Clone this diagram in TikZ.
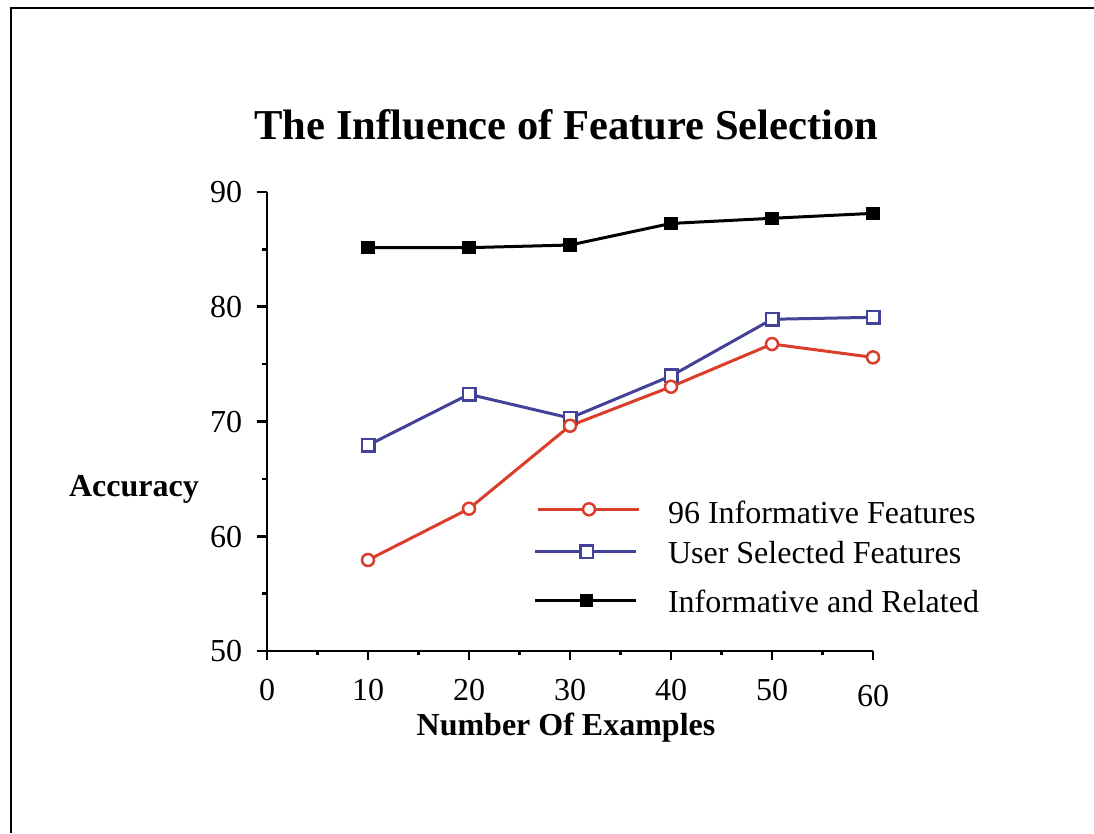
\documentclass[tikz,border=0pt]{standalone}
\usepackage{fontspec}
\setmainfont{Liberation Serif}
\definecolor{serred}{RGB}{218,62,42}
\definecolor{serblue}{RGB}{66,66,152}
\tikzset{
  every node/.style={inner sep=0pt, outer sep=0pt},
  axisline/.style={line width=2.8pt, black},
  majtick/.style={line width=2.8pt, black},
  mintick/.style={line width=2.6pt, black},
  txt/.style={font=\fontsize{32}{38}\selectfont},
  ttl/.style={font=\fontsize{42.6}{50}\selectfont\bfseries},
  redline/.style={line width=3pt, serred},
  blueline/.style={line width=3pt, serblue},
  blackline/.style={line width=3pt, black},
  redmark/.style={circle, draw=serred, fill=white, line width=2.5pt, minimum size=12pt},
  bluemark/.style={rectangle, draw=serblue, fill=white, line width=2.5pt, minimum size=12.5pt},
  blackmark/.style={rectangle, fill=black, minimum size=13.5pt},
}
\begin{document}
\begin{tikzpicture}[x=1pt, y=-1pt]
\useasboundingbox (0,0) rectangle (1094,833);
% frame (top and left)
\draw[line width=2pt] (11,833) -- (11,8) -- (1094,8);
% title
\node[ttl, anchor=base] (title) at (566.5,139) {The Influence of Feature Selection};
% axes
\coordinate (origin) at (267,651);
\coordinate (ytop) at (267,192);
\coordinate (xend) at (873,651);
\draw[axisline] (ytop) -- (origin) -- (xend);
% y ticks
\foreach \v in {50,60,70,80,90} {
  \pgfmathsetmacro{\yy}{651-(\v-50)*11.475}
  \draw[majtick] (256.5,\yy) -- (267,\yy);
  \node[txt, anchor=base east] (yl\v) at (242,\yy+10.8) {\v};
}
\foreach \v in {55,65,75,85} {
  \pgfmathsetmacro{\yy}{651-(\v-50)*11.475}
  \draw[mintick] (261.5,\yy) -- (267,\yy);
}
% x ticks
\foreach \v in {0,10,20,30,40,50,60} {
  \pgfmathsetmacro{\xx}{267+\v*10.1}
  \draw[majtick] (\xx,651) -- (\xx,660);
}
\foreach \v in {5,15,25,35,45,55} {
  \pgfmathsetmacro{\xx}{267+\v*10.1}
  \draw[mintick] (\xx,651) -- (\xx,655);
}
\foreach \v in {0,10,20,30,40,50} {
  \pgfmathsetmacro{\xx}{267+\v*10.1}
  \node[txt, anchor=base] (xl\v) at (\xx,700.5) {\v};
}
\node[txt, anchor=base] (xl60) at (873,706) {60};
% axis titles
\node[txt, font=\fontsize{32}{38}\selectfont\bfseries, anchor=base] (ylab) at (134,496.5) {Accuracy};
\node[txt, font=\fontsize{32}{38}\selectfont\bfseries, anchor=base] (xlab) at (566,735) {Number Of Examples};
% data
\begin{scope}[shift={(267,651)}, x=10.1pt, y=11.475pt]
  \foreach \i/\xv/\rv/\bv/\kv in {1/10/57.93/67.93/85.15, 2/20/62.40/72.37/85.15, 3/30/69.63/70.30/85.38, 4/40/73.03/73.97/87.26, 5/50/76.75/78.91/87.71, 6/60/75.59/79.08/88.14} {
    \coordinate (r\i) at (\xv,\rv-50);
    \coordinate (b\i) at (\xv,\bv-50);
    \coordinate (k\i) at (\xv,\kv-50);
  }
\end{scope}
\draw[blackline] (k1) -- (k2) -- (k3) -- (k4) -- (k5) -- (k6);
\draw[blueline] (b1) -- (b2) -- (b3) -- (b4) -- (b5) -- (b6);
\draw[redline] (r1) -- (r2) -- (r3) -- (r4) -- (r5) -- (r6);
\foreach \i in {1,...,6} {
  \node[blackmark] (mk\i) at (k\i) {};
  \node[bluemark] (mb\i) at (b\i) {};
}
\foreach \i in {1,...,6} {
  \node[redmark] (mr\i) at (r\i) {};
}
% legend
\coordinate (lr0) at (538,509.3);
\coordinate (lr1) at (639,509.3);
\coordinate (lb0) at (535,551.7);
\coordinate (lb1) at (636,551.7);
\coordinate (lk0) at (535,600.7);
\coordinate (lk1) at (636,600.7);
\draw[redline] (lr0) -- (lr1);
\draw[blueline] (lb0) -- (lb1);
\draw[blackline] (lk0) -- (lk1);
\node[redmark] (lmr) at (589,509.3) {};
\node[bluemark] (lmb) at (586.7,551.7) {};
\node[blackmark] (lmk) at (586.7,600.7) {};
\node[txt, anchor=base west] (lt1) at (668,523.5) {96 Informative Features};
\node[txt, anchor=base west] (lt2) at (668,563.5) {User Selected Features};
\node[txt, anchor=base west] (lt3) at (668,612) {Informative and Related};
\end{tikzpicture}
\end{document}
